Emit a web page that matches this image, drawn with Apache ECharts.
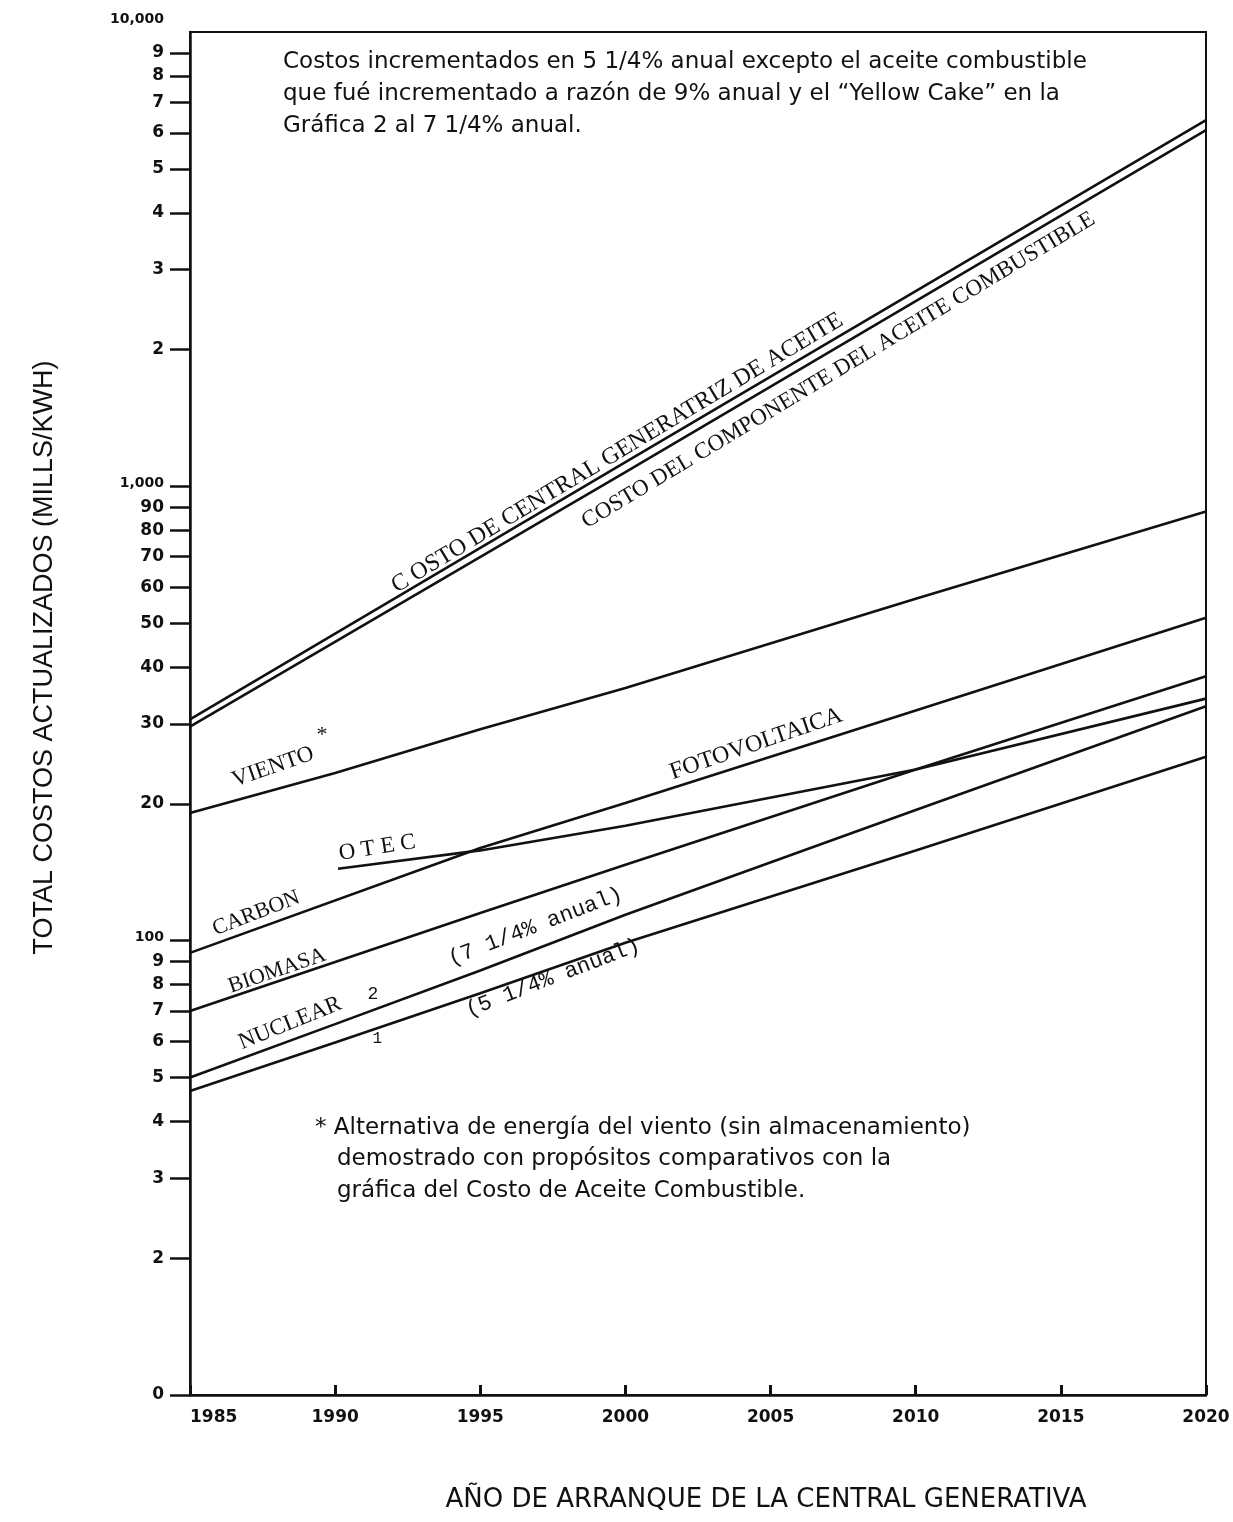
<!DOCTYPE html>
<html><head><meta charset="utf-8">
<script src="https://cdn.jsdelivr.net/npm/echarts@6/dist/echarts.min.js"></script>
<style>html,body{margin:0;padding:0;background:#fff}#c{width:1233px;height:1522px}</style>
</head><body><div id="c"></div>
<script>
// ---------- data ----------
const oilPlant = [[1985,307],[2000,1130],[2020,6400]];
const oilFuel  = [[1985,296],[2000,1075],[2020,6080]];
const viento   = [[1985,191],[1990,234],[1995,292],[2000,360],[2010,566],[2020,880]];
const carbon   = [[1985,94],[1995,160],[2000,201],[2010,321],[2020,514]];
const biomasa  = [[1985,70],[1995,115],[2000,147],[2010,238],[2020,382]];
const otec     = [[1990.1,144],[1995,158],[2000,179],[2010,238],[2020,341]];
const nuclear2 = [[1985,50],[1990,65.5],[1995,86],[2000,114],[2010,194],[2020,328]];
const nuclear1 = [[1985,46.7],[1990,59.7],[1995,76.6],[2000,99],[2010,158],[2020,254]];

const xTicks = [1985,1990,1995,2000,2005,2010,2015,2020];
const yTickValues = [10,20,30,40,50,60,70,80,90,100,200,300,400,500,600,700,800,900,1000,2000,3000,4000,5000,6000,7000,8000,9000,10000];
const yTickLabels = ['0','2','3','4','5','6','7','8','9','100','20','30','40','50','60','70','80','90','1,000','2','3','4','5','6','7','8','9','10,000'];

const lineLabels = [
  {text:'C OSTO DE CENTRAL GENERATRIZ DE ACEITE', at:[1999.72,1184], angle:31, size:24},
  {text:'COSTO DEL COMPONENTE DEL ACEITE COMBUSTIBLE', at:[2007.34,1800], angle:31, size:23},
  {text:'VIENTO', at:[1987.86,241], angle:19, size:23},
  {text:'*', at:[1989.55,283], angle:0, size:22},
  {text:'O T E C', at:[1991.45,160], angle:9, size:23},
  {text:'CARBON', at:[1987.28,114.8], angle:21, size:22},
  {text:'FOTOVOLTAICA', at:[2004.5,271], angle:19, size:24},
  {text:'BIOMASA', at:[1988.0,85.8], angle:19, size:22},
  {text:'NUCLEAR', at:[1988.45,65.8], angle:22, size:23},
  {text:'2', at:[1991.3,76.2], angle:0, size:18, mono:true},
  {text:'1', at:[1991.45,60.8], angle:0, size:16, mono:true},
  {text:'(7 1/4% anual)', at:[1996.9,107.4], angle:21, size:22, mono:true},
  {text:'(5 1/4% anual)', at:[1997.5,82.8], angle:21, size:22, mono:true}
];

const noteLines = [
  'Costos incrementados en 5 1/4% anual excepto el aceite combustible',
  'que fué incrementado a razón de 9% anual y el \u201CYellow Cake\u201D en la',
  'Gráfica 2 al 7 1/4% anual.'
];
const footLines = [
  '* Alternativa de energía del viento (sin almacenamiento)',
  '   demostrado con propósitos comparativos con la',
  '   gráfica del Costo de Aceite Combustible.'
];

// ---------- chart ----------
const chart = echarts.init(document.getElementById('c'), null, {renderer:'canvas'});
const ink = '#111';
const lineStyle = {color: ink, width: 2.6};
function mk(name, data){ return {name, type:'line', data, symbol:'none', lineStyle, silent:true, z:3}; }

const labelMap = {};
yTickValues.forEach((v,i)=>{ labelMap[v] = yTickLabels[i]; });

chart.setOption({
  animation:false,
  backgroundColor:'#fff',
  grid:{left:190, right:27, top:32, bottom:127, show:true, borderColor:ink, borderWidth:2},
  xAxis:{
    type:'value', min:1985, max:2020, interval:5,
    name:'AÑO DE ARRANQUE DE LA CENTRAL GENERATIVA', nameLocation:'middle', nameGap:92,
    nameTextStyle:{fontFamily:'DejaVu Sans', fontSize:26, color:ink, padding:[0,0,0,136]},
    axisLine:{lineStyle:{color:ink, width:2.5}},
    axisTick:{inside:true, length:10, lineStyle:{color:ink, width:3}},
    axisLabel:{fontFamily:'DejaVu Sans', fontWeight:'bold', fontSize:17, color:ink, margin:14,
      alignMinLabel:'left', formatter:v=>String(v)},
    splitLine:{show:false}
  },
  yAxis:{
    type:'log', logBase:10, min:10, max:10000,
    name:'TOTAL COSTOS ACTUALIZADOS (MILLS/KWH)', nameLocation:'middle', nameRotate:90, nameGap:132,
    nameTextStyle:{fontFamily:'Liberation Sans', fontSize:27, color:ink, padding:[0,0,0,112]},
    axisLine:{lineStyle:{color:ink, width:2.5}},
    axisTick:{show:true, length:20, lineStyle:{color:ink, width:2.5},
      customValues: yTickValues.filter(v=>v<10000)},
    axisLabel:{
      customValues: yTickValues, margin:26, color:ink,
      formatter:function(v){
        const r = Math.round(v);
        const t = labelMap[r] !== undefined ? labelMap[r] : '';
        if (r===10000) return '{top|'+t+'}';
        if (r===1000 || r===100) return '{sm|'+t+'}';
        return '{n|'+t+'}';
      },
      rich:{
        n:{fontFamily:'DejaVu Sans', fontWeight:'bold', fontSize:17, color:ink},
        sm:{fontFamily:'DejaVu Sans', fontWeight:'bold', fontSize:14, color:ink, padding:[0,0,6,0]},
        top:{fontFamily:'DejaVu Sans', fontWeight:'bold', fontSize:14, color:ink, padding:[0,0,26,0]}
      }
    },
    splitLine:{show:false}
  },
  series:[
    mk('Costo de central generatriz de aceite', oilPlant),
    mk('Costo del componente del aceite combustible', oilFuel),
    mk('Viento', viento),
    mk('Carbón / Fotovoltaica', carbon),
    mk('Biomasa', biomasa),
    mk('OTEC', otec),
    mk('Nuclear 2', nuclear2),
    mk('Nuclear 1', nuclear1)
  ]
});

const g = [];
lineLabels.forEach(l=>{
  const p = chart.convertToPixel({gridIndex:0}, l.at);
  g.push({type:'text', x:p[0], y:p[1], rotation:l.angle*Math.PI/180, z:10,
    style:{text:l.text, fill:ink, align:'center', verticalAlign:'middle',
      font: l.size+'px ' + (l.mono ? '"Liberation Mono"' : '"Liberation Serif"')}});
});
noteLines.forEach((t,i)=>{
  g.push({type:'text', x:283, y:62+i*32, z:10,
    style:{text:t, fill:ink, align:'left', verticalAlign:'middle', font:'23px "DejaVu Sans"'}});
});
footLines.forEach((t,i)=>{
  g.push({type:'text', x:315, y:1128+i*31.5, z:10,
    style:{text:t, fill:ink, align:'left', verticalAlign:'middle', font:'23px "DejaVu Sans"'}});
});
chart.setOption({graphic:g});
</script></body></html>
